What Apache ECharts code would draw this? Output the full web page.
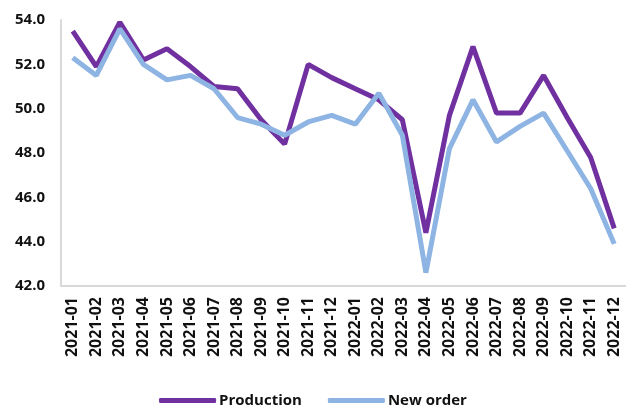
<!DOCTYPE html>
<html><head><meta charset="utf-8">
<script src="https://cdn.jsdelivr.net/npm/echarts@6/dist/echarts.min.js"></script>
<style>html,body{margin:0;padding:0;background:#fff}#c{width:626px;height:405px}</style>
</head><body><div id="c"></div>
<script>
const categories = ['2021-01','2021-02','2021-03','2021-04','2021-05','2021-06','2021-07','2021-08','2021-09','2021-10','2021-11','2021-12','2022-01','2022-02','2022-03','2022-04','2022-05','2022-06','2022-07','2022-08','2022-09','2022-10','2022-11','2022-12'];
const production = [53.5,51.9,53.9,52.2,52.7,51.9,51.0,50.9,49.5,48.4,52.0,51.4,50.9,50.4,49.5,44.4,49.7,52.8,49.8,49.8,51.5,49.6,47.8,44.6];
const newOrder = [52.3,51.5,53.6,52.0,51.3,51.5,50.9,49.6,49.3,48.8,49.4,49.7,49.3,50.7,48.8,42.6,48.2,50.4,48.5,49.2,49.8,48.1,46.4,43.9];
const yTicks = {min:42, max:54, interval:2};

const chart = echarts.init(document.getElementById('c'));
const font = 'Open Sans, Liberation Sans, sans-serif';
chart.setOption({
  animation:false,
  grid:{left:61, right:-3, top:20, bottom:119, containLabel:false},
  legend:{
    top:388, left:'center', itemWidth:57, itemHeight:5, itemGap:26,
    icon:'roundRect',
    textStyle:{fontFamily:font, fontWeight:'bold', fontSize:15, color:'#111', padding:[0,0,0,-2]},
    data:['Production','New order']
  },
  xAxis:{
    type:'category', data:categories, boundaryGap:true,
    axisLine:{lineStyle:{color:'#D9D9D9', width:2}},
    axisTick:{show:false},
    axisLabel:{rotate:90, interval:0, margin:11, fontFamily:font, fontWeight:'bold', fontSize:16, color:'#111'}
  },
  yAxis:{
    type:'value', min:yTicks.min, max:yTicks.max, interval:yTicks.interval,
    axisLine:{show:true, lineStyle:{color:'#D9D9D9', width:2}},
    axisTick:{show:false},
    splitLine:{show:false},
    axisLabel:{margin:16, fontFamily:font, fontWeight:'bold', fontSize:15, color:'#111', formatter:v=>v.toFixed(1)}
  },
  series:[
    {name:'Production', type:'line', data:production, symbol:'none', lineStyle:{width:5, color:'#7030A0'}, itemStyle:{color:'#7030A0'}},
    {name:'New order', type:'line', data:newOrder, symbol:'none', lineStyle:{width:5, color:'#8DB4E2'}, itemStyle:{color:'#8DB4E2'}}
  ]
});
</script></body></html>
